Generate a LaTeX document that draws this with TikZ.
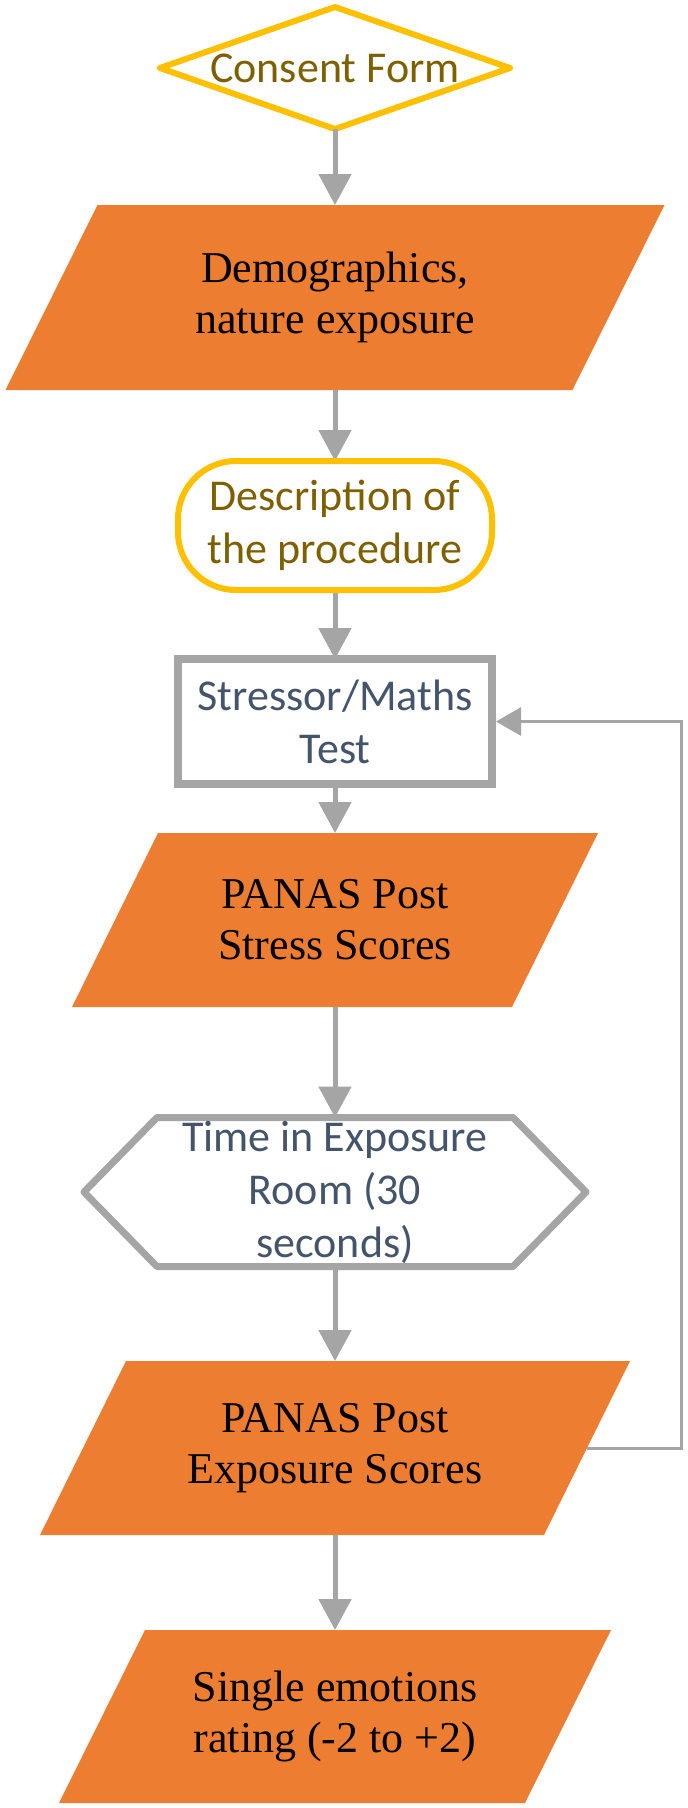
\documentclass[tikz,border=0pt]{standalone}
\usepackage{fontspec}
\setmainfont{Liberation Serif}
\newfontfamily\calfont{Carlito}
\usetikzlibrary{arrows.meta}
\definecolor{orng}{HTML}{ED7D31}
\definecolor{yel}{HTML}{FFC000}
\definecolor{gry}{HTML}{A5A5A5}
\definecolor{goldtxt}{HTML}{7F6000}
\definecolor{slate}{HTML}{44546A}
\pgfdeclarelayer{bg}
\pgfsetlayers{bg,main}
\begin{document}
\begin{tikzpicture}[x=1pt,y=-1pt,
  base/.style={inner sep=0pt, outer sep=0pt, align=center},
  serif/.style={base, font=\fontsize{44}{51}\selectfont, text=black},
  sans/.style={base, font=\calfont\fontsize{44}{53}\selectfont},
  yelline/.style={draw=yel, line width=6pt, line join=round},
  gryline/.style={draw=gry, line width=8pt},
  orfill/.style={fill=orng},
  arr/.style={draw=gry, line width=5pt, -{Triangle[length=31pt,width=32pt]}},
  fbarr/.style={draw=gry, line width=3pt, -{Triangle[length=25pt,width=28pt]}}
]
\begin{pgfonlayer}{bg}
\fill[white] (0,0) rectangle (688,1808);
\end{pgfonlayer}
\useasboundingbox (0,0) rectangle (688,1808);

% Consent form (diamond)
\node[sans, text=goldtxt, minimum width=350pt, minimum height=122pt] (consent) at (335,68) {Consent Form};
\begin{pgfonlayer}{bg}
\draw[yelline] (consent.west) -- (consent.north) -- (consent.east) -- (consent.south) -- cycle;
\end{pgfonlayer}

% Demographics (parallelogram)
\node[serif, minimum width=567pt, minimum height=185pt] (demo) at (335,297.5) {Demographics,\\nature exposure};
\begin{pgfonlayer}{bg}
\fill[orfill] ([xshift=46pt]demo.north west) -- ([xshift=46pt]demo.north east) -- ([xshift=-46pt]demo.south east) -- ([xshift=-46pt]demo.south west) -- cycle;
\end{pgfonlayer}

% Description (terminator)
\node[sans, text=goldtxt, minimum width=314pt, minimum height=129pt, yelline, rounded corners=58pt] (desc) at (335,525.5) {Description of\\the procedure};

% Stressor (rectangle)
\node[sans, text=slate, minimum width=314pt, minimum height=125pt, gryline] (stress) at (335,721.5) {Stressor/Maths\\Test};

% PANAS post stress (parallelogram)
\node[serif, minimum width=440pt, minimum height=174pt] (post1) at (335,920) {PANAS Post\\Stress Scores};
\begin{pgfonlayer}{bg}
\fill[orfill] ([xshift=43pt]post1.north west) -- ([xshift=43pt]post1.north east) -- ([xshift=-43pt]post1.south east) -- ([xshift=-43pt]post1.south west) -- cycle;
\end{pgfonlayer}

% Time in exposure room (hexagon)
\node[sans, text=slate, minimum width=502pt, minimum height=149pt] (hex) at (335,1192) {Time in Exposure\\Room (30\\seconds)};
\begin{pgfonlayer}{bg}
\draw[gryline, line width=7pt, line join=round] (hex.west) -- ([xshift=73pt]hex.north west) -- ([xshift=-73pt]hex.north east) -- (hex.east) -- ([xshift=-73pt]hex.south east) -- ([xshift=73pt]hex.south west) -- cycle;
\end{pgfonlayer}

% PANAS post exposure (parallelogram)
\node[serif, minimum width=504pt, minimum height=174pt] (post2) at (335,1448) {PANAS Post\\Exposure Scores};
\begin{pgfonlayer}{bg}
\fill[orfill] ([xshift=43pt]post2.north west) -- ([xshift=43pt]post2.north east) -- ([xshift=-43pt]post2.south east) -- ([xshift=-43pt]post2.south west) -- cycle;
\end{pgfonlayer}

% Single emotions (parallelogram)
\node[serif, minimum width=466pt, minimum height=173pt] (single) at (335,1716.5) {Single emotions\\rating (-2 to +2)};
\begin{pgfonlayer}{bg}
\fill[orfill] ([xshift=43pt]single.north west) -- ([xshift=43pt]single.north east) -- ([xshift=-43pt]single.south east) -- ([xshift=-43pt]single.south west) -- cycle;
\end{pgfonlayer}

% Connectors
\begin{pgfonlayer}{bg}
\draw[arr] (consent.south) -- (demo.north);
\draw[arr] (demo.south) -- (desc.north);
\draw[arr] (desc.south) -- (stress.north);
\draw[arr] (stress.south) -- (post1.north);
\draw[arr] (post1.south) -- (hex.north);
\draw[arr] (hex.south) -- (post2.north);
\draw[arr] (post2.south) -- (single.north);
\end{pgfonlayer}
\coordinate (fbc) at (681,1448);
\draw[fbarr] (post2.east) -- (fbc) |- ([xshift=4pt]stress.east);
\end{tikzpicture}
\end{document}
